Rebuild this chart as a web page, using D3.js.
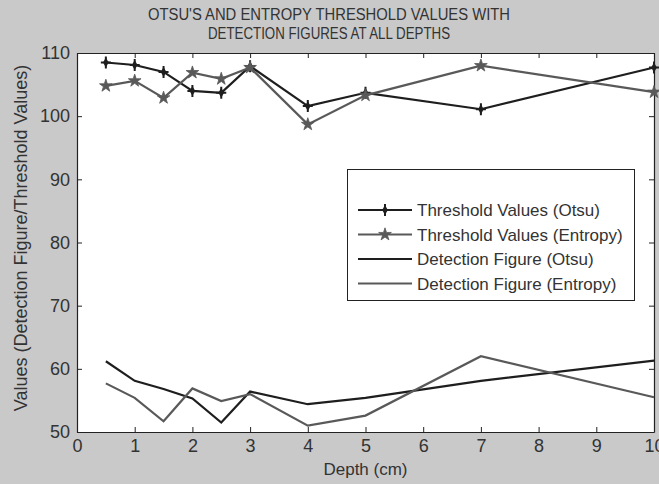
<!DOCTYPE html>
<html>
<head>
<meta charset="utf-8">
<script src="https://cdn.jsdelivr.net/npm/d3@7.9.0/dist/d3.min.js"></script>
<style>
  body { margin: 0; background: #c9c9c9; }
  svg { display: block; font-family: "Liberation Sans", Arial, sans-serif; }
</style>
</head>
<body>
<svg id="chart" width="659" height="484"></svg>
<script>
// ---------- DATA ----------
const depths = [0.5, 1, 1.5, 2, 2.5, 3, 4, 5, 7, 10];
const thresholdOtsu = [108.5, 108.1, 107.0, 104.0, 103.7, 107.9, 101.6, 103.7, 101.1, 107.7];
const thresholdEntropy = [104.8, 105.6, 102.9, 106.9, 105.9, 107.7, 98.7, 103.3, 108.0, 103.8];
const detectionOtsu = [61.2, 58.1, 56.8, 55.3, 51.5, 56.4, 54.4, 55.4, 58.1, 61.3];
const detectionEntropy = [57.7, 55.4, 51.7, 56.9, 54.9, 56.0, 51.0, 52.6, 62.0, 55.5];
const xTicks = [0, 1, 2, 3, 4, 5, 6, 7, 8, 9, 10];
const yTicks = [50, 60, 70, 80, 90, 100, 110];
const seriesNames = ["Threshold Values (Otsu)", "Threshold Values (Entropy)", "Detection Figure  (Otsu)", "Detection Figure  (Entropy)"];

const dark = "#1e1e1e";
const grey = "#595959";

const series = [
  { name: seriesNames[0], values: thresholdOtsu, color: dark, marker: "plus" },
  { name: seriesNames[1], values: thresholdEntropy, color: grey, marker: "star" },
  { name: seriesNames[2], values: detectionOtsu, color: dark, marker: null },
  { name: seriesNames[3], values: detectionEntropy, color: grey, marker: null }
];

// ---------- LAYOUT ----------
const svg = d3.select("#chart");
const W = 659, H = 484;
const plotLeft = 77, plotRight = 654, plotTop = 53, plotBottom = 432;

svg.append("rect").attr("width", W).attr("height", H).attr("fill", "#c9c9c9");

const x = d3.scaleLinear().domain([0, 10]).range([plotLeft, plotRight]);
const y = d3.scaleLinear().domain([50, 110]).range([plotBottom, plotTop]);

svg.append("rect")
  .attr("x", plotLeft).attr("y", plotTop)
  .attr("width", plotRight - plotLeft).attr("height", plotBottom - plotTop)
  .attr("fill", "#fff");

// ---------- AXES (ticks inward, box style) ----------
const tickLen = 5;
const axisColor = "#222";

const xb = svg.append("g").attr("transform", `translate(0,${plotBottom})`)
  .call(d3.axisBottom(x).tickValues(xTicks).tickSizeInner(-tickLen).tickSizeOuter(0).tickPadding(7));
const xt = svg.append("g").attr("transform", `translate(0,${plotTop})`)
  .call(d3.axisTop(x).tickValues(xTicks).tickSizeInner(-tickLen).tickSizeOuter(0).tickFormat(""));
const yl = svg.append("g").attr("transform", `translate(${plotLeft},0)`)
  .call(d3.axisLeft(y).tickValues(yTicks).tickSizeInner(-tickLen).tickSizeOuter(0).tickPadding(7));
const yr = svg.append("g").attr("transform", `translate(${plotRight},0)`)
  .call(d3.axisRight(y).tickValues(yTicks).tickSizeInner(-tickLen).tickSizeOuter(0).tickFormat(""));

[xb, xt, yl, yr].forEach(g => {
  g.selectAll("path").attr("stroke", axisColor).attr("stroke-width", 1.2);
  g.selectAll("line").attr("stroke", axisColor);
  g.selectAll("text").attr("fill", "#333").style("font-size", "18px").style("font-family", "inherit");
});
xb.selectAll("text").attr("dy", "0.71em");

// ---------- LINES ----------
const line = d3.line().x((d, i) => x(depths[i])).y(d => y(d));

series.forEach(s => {
  svg.append("path")
    .datum(s.values)
    .attr("d", line)
    .attr("fill", "none")
    .attr("stroke", s.color)
    .attr("stroke-width", 2.2)
    .attr("stroke-linejoin", "miter");
});

function drawMarker(g, type, cx, cy, color) {
  if (type === "plus") {
    g.append("path")
      .attr("d", `M${cx - 5},${cy}H${cx + 5}M${cx},${cy - 6}V${cy + 6}`)
      .attr("stroke", color).attr("stroke-width", 2);
    g.append("path")
      .attr("d", d3.symbol().type(d3.symbolDiamond).size(28)())
      .attr("transform", `translate(${cx},${cy})`)
      .attr("fill", color);
  } else if (type === "star") {
    g.append("path")
      .attr("d", d3.symbol().type(d3.symbolStar).size(50)())
      .attr("transform", `translate(${cx},${cy})`)
      .attr("fill", color).attr("stroke", color).attr("stroke-width", 0.8);
  }
}

series.filter(s => s.marker).forEach(s => {
  const g = svg.append("g");
  s.values.forEach((v, i) => drawMarker(g, s.marker, x(depths[i]), y(v), s.color));
});

// ---------- LEGEND ----------
const legend = svg.append("g");
legend.append("rect")
  .attr("x", 347.5).attr("y", 169.5).attr("width", 287).attr("height", 131)
  .attr("fill", "#fff").attr("stroke", "#222").attr("stroke-width", 1);

series.forEach((s, i) => {
  const ly = 210 + i * 24.5;
  legend.append("line")
    .attr("x1", 358).attr("x2", 412).attr("y1", ly).attr("y2", ly)
    .attr("stroke", s.color).attr("stroke-width", 2.2);
  if (s.marker) drawMarker(legend, s.marker, 385, ly, s.color);
  legend.append("text")
    .attr("x", 417).attr("y", ly).attr("dy", "0.36em")
    .attr("fill", "#333").style("font-size", "17px")
    .text(s.name);
});

// ---------- TITLES ----------
const title = svg.append("text")
  .attr("text-anchor", "middle").attr("fill", "#333").style("font-size", "16px");
title.append("tspan").attr("x", 329).attr("y", 20)
  .attr("textLength", 362).attr("lengthAdjust", "spacingAndGlyphs")
  .text("OTSU'S AND ENTROPY THRESHOLD VALUES WITH");
title.append("tspan").attr("x", 329).attr("y", 39)
  .attr("textLength", 242).attr("lengthAdjust", "spacingAndGlyphs")
  .text("DETECTION FIGURES AT ALL DEPTHS");

svg.append("text")
  .attr("x", (plotLeft + plotRight) / 2).attr("y", 475)
  .attr("text-anchor", "middle").attr("fill", "#333").style("font-size", "17px")
  .text("Depth (cm)");

svg.append("text")
  .attr("transform", `translate(27,238) rotate(-90)`)
  .attr("text-anchor", "middle").attr("fill", "#333").style("font-size", "18px")
  .text("Values (Detection Figure/Threshold Values)");
</script>
</body>
</html>
